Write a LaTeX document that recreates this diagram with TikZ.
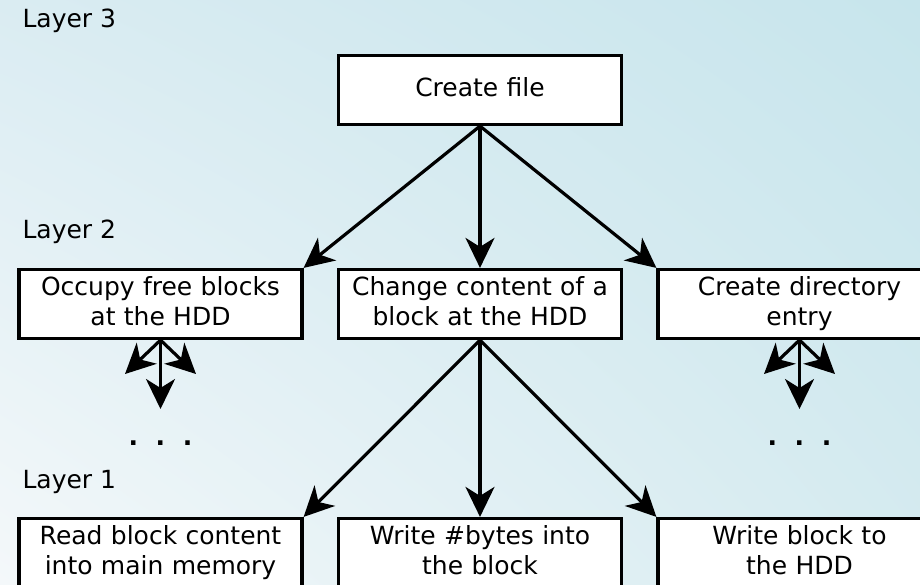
\documentclass[tikz,border=0pt]{standalone}
\usepackage{fontspec}
\setmainfont{DejaVu Sans}
\usetikzlibrary{arrows.meta,shadings}
\definecolor{bgll}{RGB}{244,248,250}
\definecolor{bgul}{RGB}{218,236,242}
\definecolor{bglr}{RGB}{214,235,240}
\definecolor{bgur}{RGB}{199,229,236}

\begin{document}
\begin{tikzpicture}[x=1pt,y=-1pt,
  box/.style={draw, fill=white, line width=3.2pt, minimum width=283pt, minimum height=69pt,
    text width=275pt, align=center, inner sep=0pt, font=\fontsize{25}{30}\selectfont,
    execute at begin node=\strut, execute at end node=\strut},
  lbl/.style={anchor=base west, font=\fontsize{25}{30}\selectfont},
  arr/.style={line width=3.2pt, -{Stealth[length=30pt,width=29pt,inset=9pt]}},
  more/.style={anchor=base, font=\fontsize{25}{30}\selectfont\bfseries}]
\clip (0,0) rectangle (920,584);
\shade[lower left=bgll, upper left=bgul, lower right=bglr, upper right=bgur]
  (0,0) rectangle (920,584);

\node [lbl] (layerthree) at (19,27) {Layer 3};
\node [lbl] (layertwo) at (19,238) {Layer 2};
\node [lbl] (layerone) at (19,488) {Layer 1};

\node [box] (create) at (480,90) {Create file};

\node [box] (occupy) at (160.5,304) {Occupy free blocks\\at the HDD};
\node [box] (change) at (480,304) {Change content of a\\block at the HDD};
\node [box] (direntry) at (799.5,304) {Create directory\\entry};

\node [box] (readblk) at (160.5,553) {Read block content\\into main memory};
\node [box] (writebytes) at (480,553) {Write \#bytes into\\the block};
\node [box] (writeblk) at (799.5,553) {Write block to\\the HDD};

\draw [arr] (create.south) -- (occupy.north east);
\draw [arr] (create.south) -- (change.north);
\draw [arr] (create.south) -- (direntry.north west);

\draw [arr] (change.south) -- (readblk.north east);
\draw [arr] (change.south) -- (writebytes.north);
\draw [arr] (change.south) -- (writeblk.north west);

% unfinished branches
\coordinate (occl) at (125,374);
\coordinate (occd) at (160.5,409);
\coordinate (occr) at (196,374);
\draw [arr] (occupy.south) -- (occl);
\draw [arr] (occupy.south) -- (occd);
\draw [arr] (occupy.south) -- (occr);
\node [more] (occdots) at (160.5,445) {.\hspace{17.7pt}.\hspace{17.7pt}.};

\coordinate (dirl) at (764,374);
\coordinate (dird) at (799.5,409);
\coordinate (dirr) at (835,374);
\draw [arr] (direntry.south) -- (dirl);
\draw [arr] (direntry.south) -- (dird);
\draw [arr] (direntry.south) -- (dirr);
\node [more] (dirdots) at (799.5,445) {.\hspace{17.7pt}.\hspace{17.7pt}.};
\end{tikzpicture}
\end{document}
